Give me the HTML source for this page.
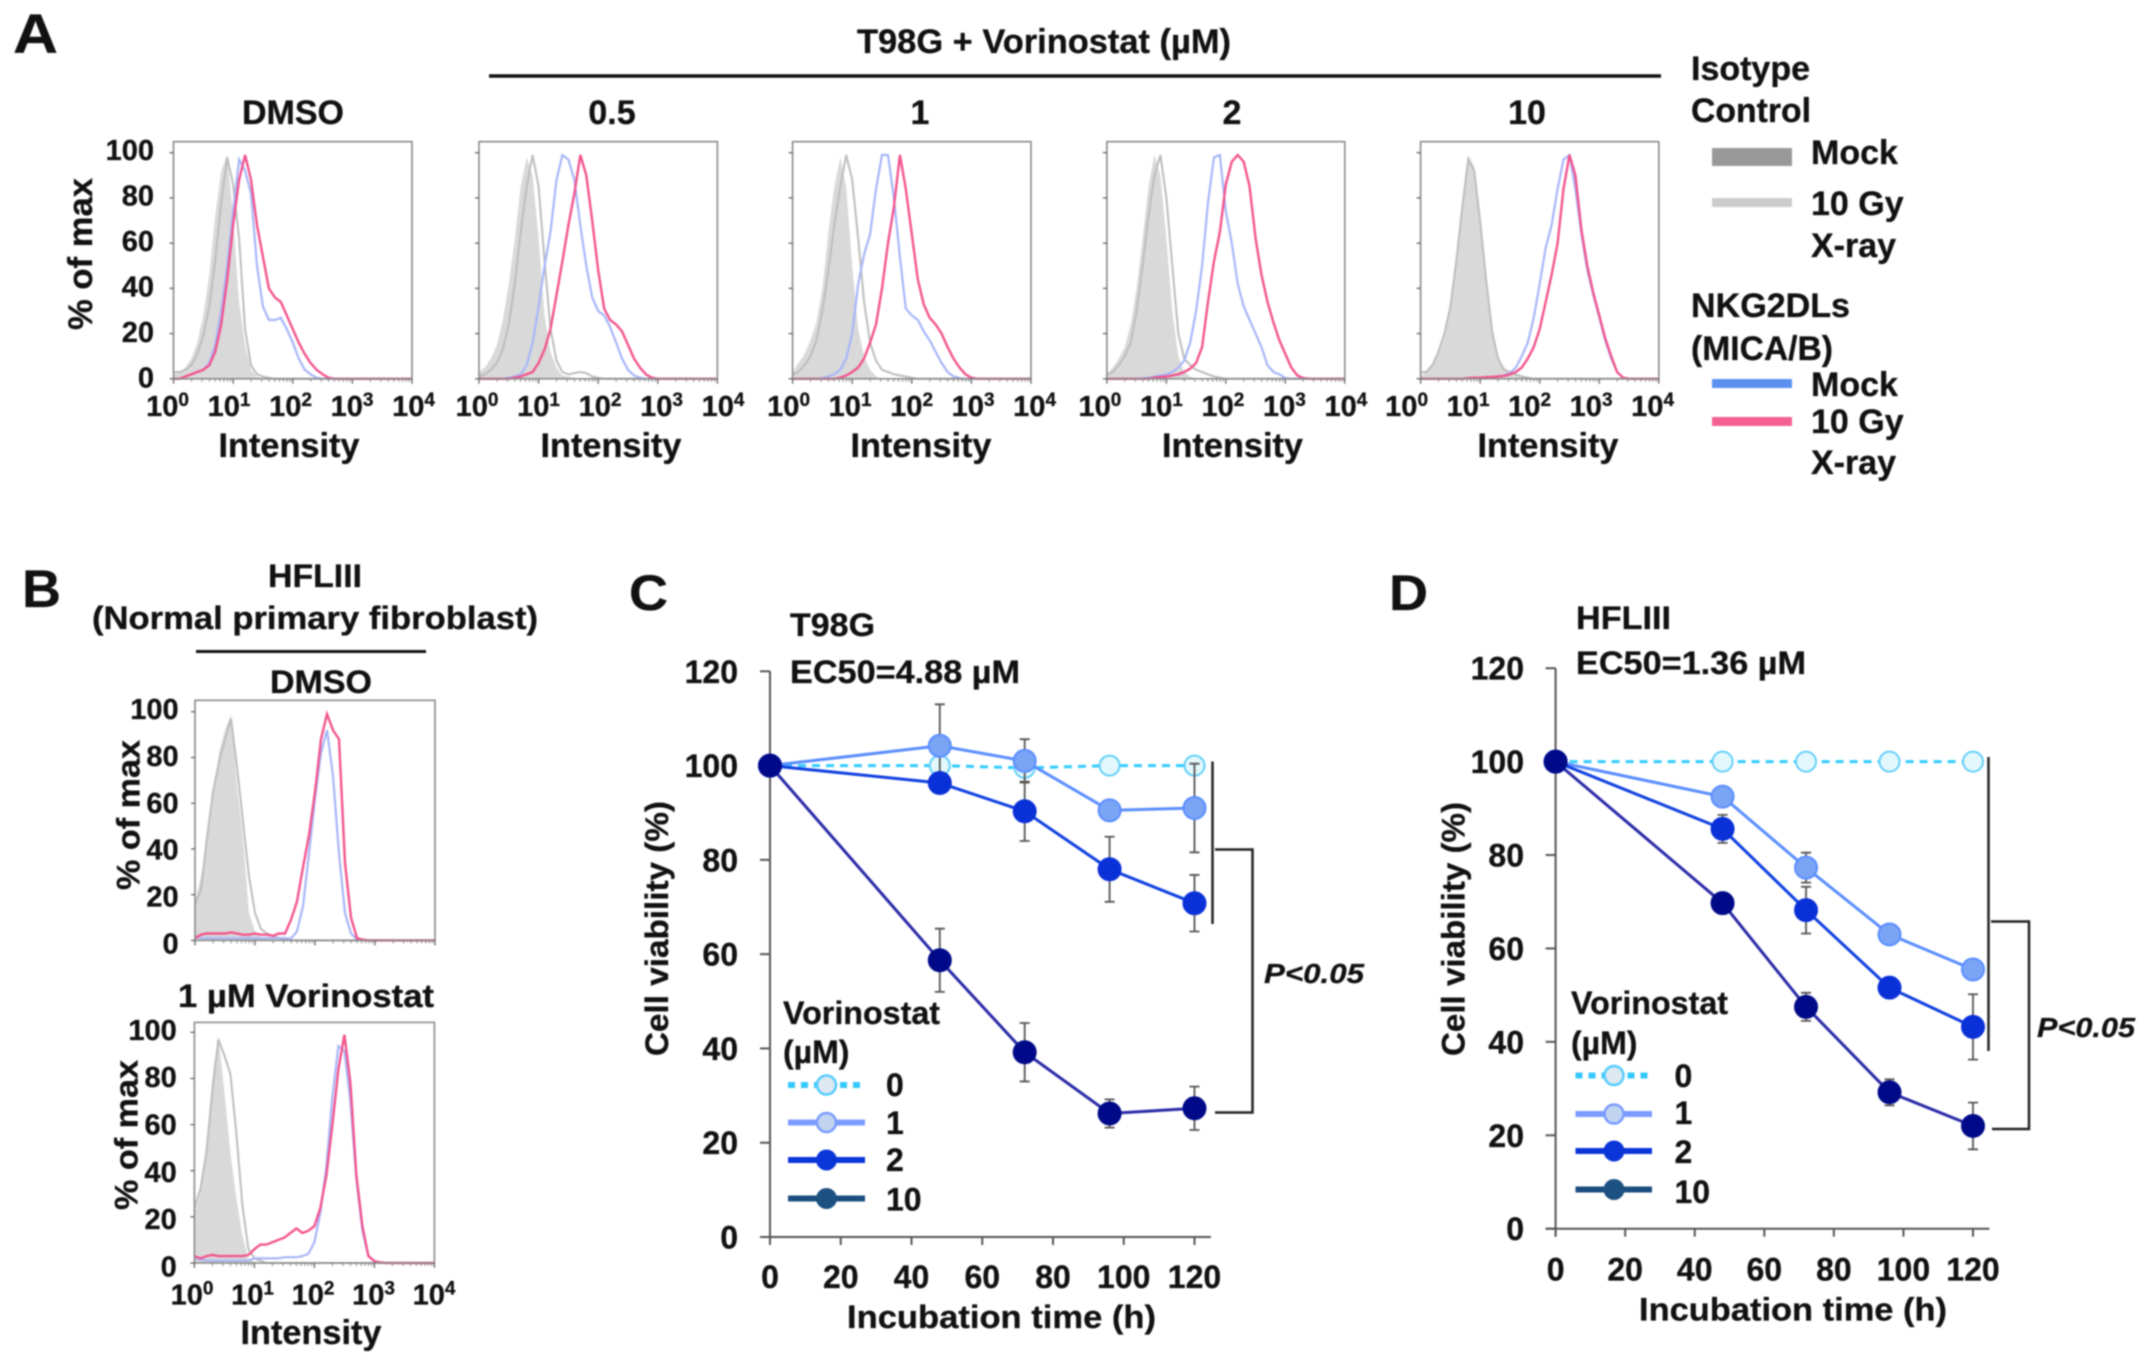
<!DOCTYPE html>
<html lang="en">
<head>
<meta charset="utf-8">
<title>Vorinostat NKG2DL expression and cell viability</title>
<style>
html,body{margin:0;padding:0;background:#fff;}
#figure{display:block;width:2150px;height:1364px;filter:blur(0.75px);}
text{font-family:"Liberation Sans",Arial,sans-serif;font-weight:bold;fill:#111;stroke:#111;stroke-width:.3px;}
.f34{font-size:34px}.f32{font-size:32px}
.p{font-size:28px;font-style:italic}
</style>
</head>
<body>
<svg id="figure" xmlns="http://www.w3.org/2000/svg" width="2150" height="1364" viewBox="0 0 2150 1364">
<rect width="2150" height="1364" fill="#fff"/>

<!-- Panel A headings -->
<text x="13" y="53" font-size="56" textLength="45" lengthAdjust="spacingAndGlyphs">A</text>
<text x="857" y="53" class="f34" textLength="374" lengthAdjust="spacingAndGlyphs">T98G + Vorinostat (µM)</text>
<line x1="489" y1="76" x2="1661" y2="76" stroke="#111" stroke-width="3.5"/>
<text x="293" y="124" class="f34" text-anchor="middle">DMSO</text>
<text x="612" y="124" class="f34" text-anchor="middle">0.5</text>
<text x="920" y="124" class="f34" text-anchor="middle">1</text>
<text x="1232" y="124" class="f34" text-anchor="middle">2</text>
<text x="1527" y="124" class="f34" text-anchor="middle">10</text>
<text x="92" y="254" class="f34" text-anchor="middle" transform="rotate(-90 92 254)" textLength="152" lengthAdjust="spacingAndGlyphs">% of max</text>

<!-- Panel A legend -->
<g>
<text x="1691" y="80" class="f34" textLength="119" lengthAdjust="spacingAndGlyphs">Isotype</text>
<text x="1691" y="122" class="f34" textLength="120" lengthAdjust="spacingAndGlyphs">Control</text>
<rect x="1712" y="148" width="80" height="18" fill="#999"/>
<text x="1811" y="164" class="f34">Mock</text>
<rect x="1712" y="198" width="80" height="9" fill="#ccc"/>
<text x="1811" y="215" class="f34">10 Gy</text>
<text x="1811" y="257" class="f34">X-ray</text>
<text x="1691" y="317" class="f34" textLength="159" lengthAdjust="spacingAndGlyphs">NKG2DLs</text>
<text x="1691" y="360" class="f34" textLength="142" lengthAdjust="spacingAndGlyphs">(MICA/B)</text>
<rect x="1712" y="379" width="80" height="9" fill="#5b8ff0"/>
<text x="1811" y="396" class="f34">Mock</text>
<rect x="1712" y="417" width="80" height="9" fill="#f46090"/>
<text x="1811" y="433" class="f34">10 Gy</text>
<text x="1811" y="474" class="f34">X-ray</text>
</g>

<!-- Panel B headings -->
<text x="22" y="607" font-size="53" textLength="39" lengthAdjust="spacingAndGlyphs">B</text>
<text x="268" y="587" class="f32" textLength="94" lengthAdjust="spacingAndGlyphs">HFLIII</text>
<text x="92" y="629" class="f32" textLength="446" lengthAdjust="spacingAndGlyphs">(Normal primary fibroblast)</text>
<line x1="196" y1="651.5" x2="426" y2="651.5" stroke="#111" stroke-width="3"/>
<text x="270" y="693" class="f32" textLength="102" lengthAdjust="spacingAndGlyphs">DMSO</text>
<text x="178" y="1007" class="f32" textLength="256" lengthAdjust="spacingAndGlyphs">1 µM Vorinostat</text>
<text x="139.5" y="815" class="f32" text-anchor="middle" transform="rotate(-90 139.5 815)" textLength="150" lengthAdjust="spacingAndGlyphs">% of max</text>
<text x="137.5" y="1135" class="f32" text-anchor="middle" transform="rotate(-90 137.5 1135)" textLength="150" lengthAdjust="spacingAndGlyphs">% of max</text>

<!-- Panel C static text -->
<text x="629" y="610" font-size="50" textLength="39" lengthAdjust="spacingAndGlyphs">C</text>
<text x="790" y="636" class="f32" textLength="85" lengthAdjust="spacingAndGlyphs">T98G</text>
<text x="790" y="683" class="f32" textLength="230" lengthAdjust="spacingAndGlyphs">EC50=4.88 µM</text>
<text x="847" y="1328" class="f32" textLength="309" lengthAdjust="spacingAndGlyphs">Incubation time (h)</text>
<text x="668" y="928.5" class="f32" text-anchor="middle" transform="rotate(-90 668 928.5)" textLength="255" lengthAdjust="spacingAndGlyphs">Cell viability (%)</text>
<text x="1264" y="983" class="p" textLength="100" lengthAdjust="spacingAndGlyphs">P&lt;0.05</text>
<line x1="1212.5" y1="761.5" x2="1212.5" y2="924" stroke="#222" stroke-width="2.5"/>
<polyline points="1215,849.5 1252.5,849.5 1252.5,1112.5 1215,1112.5" fill="none" stroke="#222" stroke-width="2.5"/>
<g>
<text x="783" y="1024" class="f32" textLength="157" lengthAdjust="spacingAndGlyphs">Vorinostat</text>
<text x="783" y="1063" class="f32">(µM)</text>
<line x1="788" y1="1085" x2="865" y2="1085" stroke="#35c8fb" stroke-width="6" stroke-dasharray="7 6"/>
<circle cx="826.5" cy="1085" r="9.5" fill="#dde8f0" stroke="#55ccff" stroke-width="2.5"/>
<text x="886" y="1096" class="f32">0</text>
<line x1="788" y1="1122.5" x2="865" y2="1122.5" stroke="#7b9bff" stroke-width="6"/>
<circle cx="826.5" cy="1122.5" r="9.5" fill="#c0d4f0" stroke="#7b9bff" stroke-width="2.5"/>
<text x="886" y="1134" class="f32">1</text>
<line x1="788" y1="1160" x2="865" y2="1160" stroke="#0a35d8" stroke-width="6"/>
<circle cx="826.5" cy="1160" r="10.5" fill="#0a35d8"/>
<text x="886" y="1171" class="f32">2</text>
<line x1="788" y1="1198.5" x2="865" y2="1198.5" stroke="#1b4d80" stroke-width="6"/>
<circle cx="826.5" cy="1198.5" r="10.5" fill="#1c5080"/>
<text x="886" y="1210.5" class="f32">10</text>
</g>

<!-- Panel D static text -->
<text x="1389" y="610" font-size="50" textLength="39" lengthAdjust="spacingAndGlyphs">D</text>
<text x="1576" y="629" class="f32" textLength="95" lengthAdjust="spacingAndGlyphs">HFLIII</text>
<text x="1576" y="674" class="f32" textLength="230" lengthAdjust="spacingAndGlyphs">EC50=1.36 µM</text>
<text x="1639" y="1320.5" class="f32" textLength="308" lengthAdjust="spacingAndGlyphs">Incubation time (h)</text>
<text x="1464.5" y="929" class="f32" text-anchor="middle" transform="rotate(-90 1464.5 929)" textLength="254" lengthAdjust="spacingAndGlyphs">Cell viability (%)</text>
<text x="2037" y="1037" class="p" textLength="98" lengthAdjust="spacingAndGlyphs">P&lt;0.05</text>
<line x1="1988.5" y1="757" x2="1988.5" y2="1051" stroke="#222" stroke-width="2.5"/>
<polyline points="1991,921.5 2029,921.5 2029,1129 1992,1129" fill="none" stroke="#222" stroke-width="2.5"/>
<g>
<text x="1571" y="1014" class="f32" textLength="157" lengthAdjust="spacingAndGlyphs">Vorinostat</text>
<text x="1571" y="1054" class="f32">(µM)</text>
<line x1="1575.5" y1="1075.5" x2="1652" y2="1075.5" stroke="#35c8fb" stroke-width="6" stroke-dasharray="7 6"/>
<circle cx="1614" cy="1075.5" r="9.5" fill="#dde8f0" stroke="#55ccff" stroke-width="2.5"/>
<text x="1674.5" y="1087" class="f32">0</text>
<line x1="1575.5" y1="1114" x2="1652" y2="1114" stroke="#7b9bff" stroke-width="6"/>
<circle cx="1614" cy="1114" r="9.5" fill="#c0d4f0" stroke="#7b9bff" stroke-width="2.5"/>
<text x="1674.5" y="1124" class="f32">1</text>
<line x1="1575.5" y1="1151" x2="1652" y2="1151" stroke="#0a35d8" stroke-width="6"/>
<circle cx="1614" cy="1151" r="10.5" fill="#0a35d8"/>
<text x="1674.5" y="1163" class="f32">2</text>
<line x1="1575.5" y1="1189.5" x2="1652" y2="1189.5" stroke="#1b4d80" stroke-width="6"/>
<circle cx="1614" cy="1189.5" r="10.5" fill="#1c5080"/>
<text x="1674.5" y="1203" class="f32">10</text>
</g>
<g id="charts"></g>
</svg>

<script>
// Tick labels
const decades = [0, 1, 2, 3, 4];
const percentTicks = [0, 20, 40, 60, 80, 100];
const viabilityTicks = [0, 20, 40, 60, 80, 100, 120];
const timeTicks = [0, 20, 40, 60, 80, 100, 120];

// Histogram values: % of max per 0.1-log10 bin starting at 10^0 (bins after the last entry are 0)
const a1Fill = [2,3,5,9,16,28,46,72,92,99,72,34,15,4,1];
const a1Iso  = [3,3,4,6,11,19,32,52,78,98,86,62,22,6,2,1,.5];
const a1Mock = [0,0,1,2,3,4,7,15,30,50,74,97,92,82,50,32,26,26,27,22,16,9,4,2,.5];
const a1Xray = [0,0,1,2,3,4,6,12,24,44,68,88,99,88,68,54,40,36,34,28,22,16,11,7,4,2,.5];

const a2Fill = [3,5,9,15,26,42,62,85,98,90,62,28,12,5,1.5,1,.5];
const a2Iso  = [1,2,4,7,13,24,42,65,85,99,85,52,22,8,3,2,2.5,3,2.5,1,.5];
const a2Mock = [0,0,0,0,0,.5,1,2,6,16,32,50,65,88,99,97,88,68,50,36,30,28,23,16,9,4,1.5,.5];
const a2Xray = [0,0,0,0,0,0,.5,1,2,3,7,13,22,37,52,68,82,99,90,70,48,31,26,24,21,15,9,5,2,.5];

const a3Fill = [3,7,11,17,25,40,65,85,98,85,50,22,10,4,1];
const a3Iso  = [2,3,6,10,17,30,48,68,85,99,88,62,34,16,8,4,3,2,1.5,1,.5];
const a3Mock = [0,0,0,0,0,.3,1,2,4,9,20,42,55,64,84,99,99,80,54,31,28,26,21,17,12,7,3,1,.3];
const a3Xray = [0,0,0,0,0,0,0,0,.5,1.5,3,5,9,16,24,40,60,76,99,84,64,44,33,27,24,20,14,9,5,2,.5];

const a4Fill = [2,5,9,14,24,40,62,85,99,90,62,30,10,3,1];
const a4Iso  = [2,3,6,10,16,30,50,72,90,99,80,50,20,9,6,4,3,2,1,.5];
const a4Mock = [0,0,0,0,0,0,.2,.5,1,1.5,2,3,5,8,16,30,50,78,98,99,74,60,42,32,26,20,14,6,3,2,.3];
const a4Xray = [0,0,0,0,0,0,0,0,.5,.8,1,1.5,2,3,4.5,7,14,34,52,65,86,96,99,96,85,62,46,34,25,17,11,5,1.5,.3];

const a5Fill = [1,4,7,11,18,30,50,75,99,94,72,45,22,10,5,3,2,1,.5];
const a5Iso  = [3,3,6,12,20,32,52,76,97,92,70,44,21,9,4,3,2,1,.5];
const a5Mock = [0,0,0,0,0,0,0,0,.3,.5,.5,.7,.8,1,1.5,2.5,5,10,16,27,42,58,68,84,97,99,84,64,48,37,27,17,9,3,.5];
const a5Xray = [0,0,0,0,0,0,0,0,.3,.5,.5,.7,.8,1,1.3,2,3,5,9,14,22,34,46,60,84,99,90,66,50,38,28,18,10,3,.5];

const b1Fill = [17,28,42,62,82,92,99,68,45,12,4,1,.5];
const b1Iso  = [16,22,45,65,78,88,97,76,52,28,12,5,3,2,1,.5];
const b1Mock = [2,1,1,1,1,1,1,1,1,1,1,1,1,1,1,1,.8,4,15,38,62,82,92,72,38,12,3,.5];
const b1Xray = [1,2.5,3,3,3,3,3.5,3,2.5,2.5,3,2.5,2.5,2,3,3,9,17,32,46,65,88,99,92,88,34,10,1,.3];

const b2Fill = [22,30,50,80,99,74,48,28,12,2,.5];
const b2Iso  = [24,32,48,75,97,90,82,56,25,6,2,1];
const b2Mock = [2,1.5,1,1,1,1,1,1,1,1,2,2,2,2,2,2.5,2.5,2.5,3,4,9,22,42,72,94,92,70,36,14,3,.8];
const b2Xray = [3,2,3,3.5,3,3,3,3,3,3.5,6,8,8,9,10,11,13,15,13,14,16,24,38,60,84,99,78,38,16,3,.8,.2];

// Viability charts
const hours = [0, 48, 72, 96, 120];
const cDose0 = [100, 100, 99.5, 100, 100];
const cDose1 = [100, 104.2, 101, 90.5, 91];
const cDose2 = [100, 96.3, 90.3, 78, 70.8];
const cDose10 = [100, 58.7, 39.2, 26.2, 27.3];
const cErr0 = [0, 0, 0, 0, 0];
const cErr1 = [0, 8.8, 4.6, 1, 9.4];
const cErr2 = [0, 1, 6.3, 6.9, 6];
const cErr10 = [0, 6.7, 6.2, 3, 4.6];
const dDose0 = [100, 100, 100, 100, 100];
const dDose1 = [100, 92.5, 77.3, 63, 55.5];
const dDose2 = [100, 85.6, 68.2, 51.6, 43.2];
const dDose10 = [100, 69.7, 47.5, 29.2, 22];
const dErr0 = [0, 0, 0, 0, 0];
const dErr1 = [0, .5, 3.2, .8, 2];
const dErr2 = [0, 3, 5, 1, 7];
const dErr10 = [0, 1, 3, 2.8, 5];

const SVGNS = 'http://www.w3.org/2000/svg';
const root = document.getElementById('charts');
function mk(parent, tag, attrs, txt) {
  const el = document.createElementNS(SVGNS, tag);
  for (const k in attrs) el.setAttribute(k, attrs[k]);
  if (txt !== undefined) el.textContent = txt;
  parent.appendChild(el);
  return el;
}
const BIN = 0.1, BINS = 41;

function drawHist(p) {
  const g = mk(root, 'g', {});
  
  
  const x = l => p.left + l * (p.right - p.left) / 4;
  const y = v => p.bottom - v * (p.bottom - p.y100) / 100;
  const pts = arr => {
    const out = [];
    for (let i = 0; i < BINS; i++) {
      const v = i < arr.length ? arr[i] : 0;
      out.push(x(i * BIN).toFixed(1) + ',' + y(v).toFixed(1));
    }
    return out;
  };
  const fillPts = pts(p.fill);
  const fillArea = mk(g, 'polygon', {points: x(0) + ',' + p.bottom + ' ' + fillPts.join(' ') + ' ' + x(4) + ',' + p.bottom, fill: '#d9d9d9'});
  
  
  const iso = mk(g, 'polyline', {points: pts(p.iso).join(' '), fill: 'none', stroke: '#bdbdbd', 'stroke-width': 2});
  
  
  const mock = mk(g, 'polyline', {points: pts(p.mock).join(' '), fill: 'none', stroke: '#a8b6f8', 'stroke-width': 2.2});
  
  
  const xray = mk(g, 'polyline', {points: pts(p.xray).join(' '), fill: 'none', stroke: '#f2558f', 'stroke-width': 2.4});
  
  
  const frame = mk(g, 'rect', {x: p.left, y: p.top, width: p.right - p.left, height: p.bottom - p.top, fill: 'none', stroke: '#8a8a8a', 'stroke-width': 1.6});
  
  

  // Log-decade ticks
  for (let d = 0; d <= 4; d++) {
    const major = mk(g, 'line', {x1: x(d), x2: x(d), y1: p.bottom, y2: p.bottom + 5, stroke: '#666', 'stroke-width': 1.3});
    
    
    if (d < 4) for (let m = 2; m < 10; m++) {
      const mx = x(d + Math.log10(m));
      const minor = mk(g, 'line', {x1: mx, x2: mx, y1: p.bottom, y2: p.bottom + 3, stroke: '#888', 'stroke-width': 1});
      
      
    }
  }
  percentTicks.forEach(v => {
    const tk = mk(g, 'line', {x1: p.left - 4, x2: p.left, y1: y(v), y2: y(v), stroke: '#666', 'stroke-width': 1.3});
    
    
  });
  if (p.yLabelRight) {
    const ly0 = p.bottom + p.labelNudge;
    const ly100 = p.y100 - 2.6;
    percentTicks.forEach(v => {
      const ty = ly0 - v * (ly0 - ly100) / 100 + 10;
      const lab = mk(g, 'text', {x: p.yLabelRight, y: ty, 'text-anchor': 'end', 'font-size': 29}, String(v));
      
      
    });
  }
  if (p.xLabelBase) {
    decades.forEach((d, i) => {
      const cx = p.left + p.xLabelShift + i * p.xLabelStep;
      const lab = mk(g, 'text', {x: cx, y: p.xLabelBase, 'text-anchor': 'middle', 'font-size': 29}, '10');
      const sup = mk(lab, 'tspan', {dy: -10, 'font-size': 19}, String(d));
      
      
      
      
    });
  }
  if (p.titleX) {
    const ttl = mk(g, 'text', {x: p.titleX, y: p.titleY, 'text-anchor': 'middle', 'font-size': 34, textLength: 141, lengthAdjust: 'spacingAndGlyphs'}, 'Intensity');
    
    
  }
}

const A = {top: 141.7, bottom: 378.8, y100: 152.7, xLabelBase: 416, xLabelStep: 61.5, titleY: 457};
drawHist({...A, id: 'dmso', left: 173.5, right: 412, yLabelRight: 154, labelNudge: -1.5, xLabelShift: -6, titleX: 289, fill: a1Fill, iso: a1Iso, mock: a1Mock, xray: a1Xray});
drawHist({...A, id: '0-5', left: 479, right: 717.4, xLabelShift: -2, titleX: 611, fill: a2Fill, iso: a2Iso, mock: a2Mock, xray: a2Xray});
drawHist({...A, id: '1', left: 792.6, right: 1031, xLabelShift: -4, titleX: 921, fill: a3Fill, iso: a3Iso, mock: a3Mock, xray: a3Xray});
drawHist({...A, id: '2', left: 1106.9, right: 1344.8, xLabelShift: -7, titleX: 1232.5, fill: a4Fill, iso: a4Iso, mock: a4Mock, xray: a4Xray});
drawHist({...A, id: '10', left: 1420.6, right: 1658.8, xLabelShift: -14, titleX: 1548, fill: a5Fill, iso: a5Iso, mock: a5Mock, xray: a5Xray});
drawHist({id: 'b-dmso', left: 195, right: 435, top: 700.3, bottom: 940.4, y100: 711.8, yLabelRight: 178.7, labelNudge: 3, fill: b1Fill, iso: b1Iso, mock: b1Mock, xray: b1Xray});
drawHist({id: 'b-vorinostat', left: 194.4, right: 434.4, top: 1022.4, bottom: 1263, y100: 1032.4, yLabelRight: 176.8, labelNudge: 3.5, xLabelBase: 1304.6, xLabelShift: -2.4, xLabelStep: 60.5, titleX: 311, titleY: 1344, fill: b2Fill, iso: b2Iso, mock: b2Mock, xray: b2Xray});

const styles = [
  {key: 'dose-0', line: '#33ccff', width: 3, dash: '8 6', fill: '#e2f8fc', stroke: '#66d0f8', r: 10},
  {key: 'dose-1', line: '#5b8eff', width: 3, dash: null, fill: '#7aa4f4', stroke: '#5b8eff', r: 11},
  {key: 'dose-2', line: '#1040e0', width: 3, dash: null, fill: '#0a30d8', stroke: '#0a30d8', r: 11},
  {key: 'dose-10', line: '#2a2aa8', width: 3, dash: null, fill: '#000a88', stroke: '#000a88', r: 11}
];

function drawViability(c) {
  const g = mk(root, 'g', {});
  
  
  const x = h => c.x0 + h * (c.x120 - c.x0) / 120;
  const y = v => c.y0 - v * (c.y0 - c.y120) / 120;
  const yAxis = mk(g, 'line', {x1: c.x0, x2: c.x0, y1: c.y120, y2: c.y0 + 8, stroke: '#555', 'stroke-width': 2});
  
  
  const xAxis = mk(g, 'line', {x1: c.x0 - 10, x2: c.xEnd, y1: c.y0, y2: c.y0, stroke: '#555', 'stroke-width': 2});
  
  
  viabilityTicks.forEach(v => {
    const tk = mk(g, 'line', {x1: c.x0 - 10, x2: c.x0, y1: y(v), y2: y(v), stroke: '#555', 'stroke-width': 2});
    
    
    const lab = mk(g, 'text', {x: c.yLabelRight, y: y(v) + 11.5, 'text-anchor': 'end', 'font-size': 32}, String(v));
    
    
  });
  timeTicks.forEach(h => {
    const tk = mk(g, 'line', {x1: x(h), x2: x(h), y1: c.y0, y2: c.y0 + 8, stroke: '#555', 'stroke-width': 2});
    
    
    const lab = mk(g, 'text', {x: x(h), y: c.xLabelBase, 'text-anchor': 'middle', 'font-size': 32}, String(h));
    
    
  });
  c.series.forEach((s, si) => {
    const st = styles[si];
    const sg = mk(g, 'g', {});
    
    
    const attrs = {points: hours.map((h, i) => x(h).toFixed(1) + ',' + y(s[i]).toFixed(1)).join(' '), fill: 'none', stroke: st.line, 'stroke-width': st.width};
    if (st.dash) attrs['stroke-dasharray'] = st.dash;
    const ln = mk(sg, 'polyline', attrs);
    
    
    hours.forEach((h, i) => {
      const e = c.errors[si][i];
      if (e > 0) {
        const eb = mk(sg, 'path', {
          d: 'M' + x(h) + ' ' + y(s[i] + e) + 'V' + y(s[i] - e) +
             'M' + (x(h) - 5) + ' ' + y(s[i] + e) + 'h10' +
             'M' + (x(h) - 5) + ' ' + y(s[i] - e) + 'h10',
          fill: 'none', stroke: '#555', 'stroke-width': 1.8});
        
        
      }
    });
    hours.forEach((h, i) => {
      const pt = mk(sg, 'circle', {cx: x(h), cy: y(s[i]), r: st.r, fill: st.fill, stroke: st.stroke, 'stroke-width': 2});
      
      
    });
  });
}

drawViability({id: 'c', x0: 770, x120: 1194.5, xEnd: 1211, y0: 1237, y120: 671.3, yLabelRight: 738, xLabelBase: 1288,
  series: [cDose0, cDose1, cDose2, cDose10], errors: [cErr0, cErr1, cErr2, cErr10]});
drawViability({id: 'd', x0: 1555.6, x120: 1973, xEnd: 1989.4, y0: 1228.7, y120: 668.2, yLabelRight: 1524, xLabelBase: 1280.5,
  series: [dDose0, dDose1, dDose2, dDose10], errors: [dErr0, dErr1, dErr2, dErr10]});
</script>
</body>
</html>
